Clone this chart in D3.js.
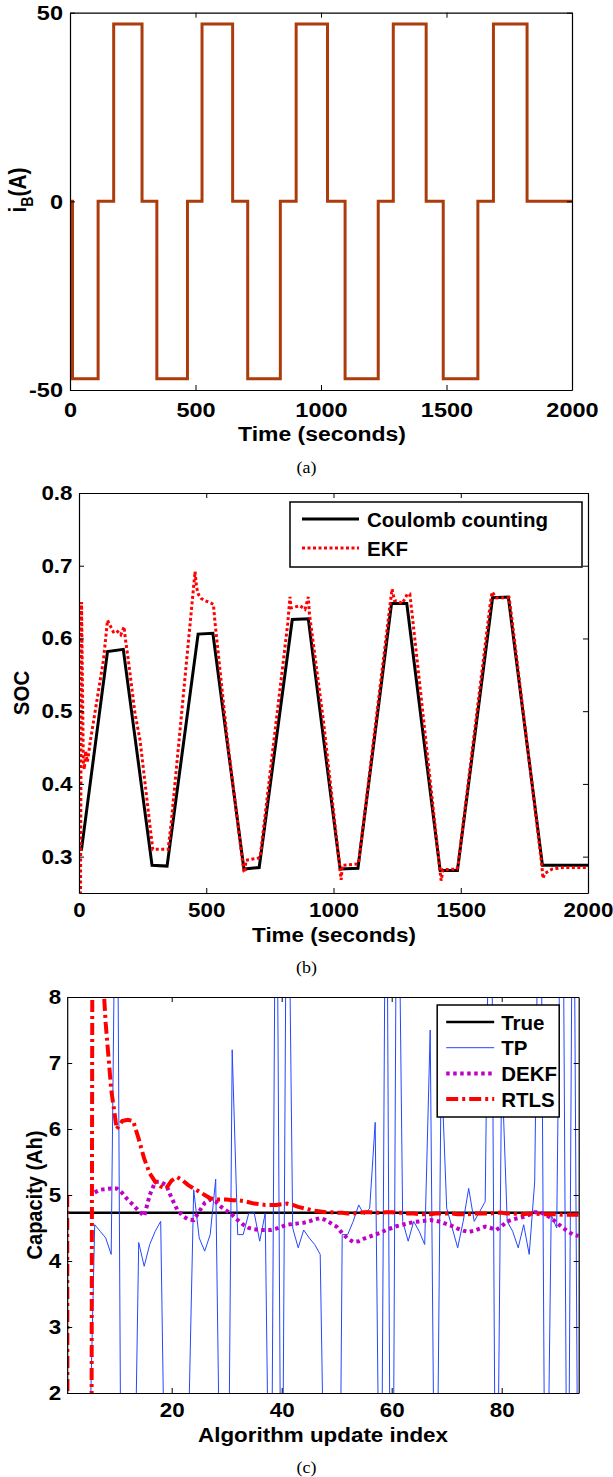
<!DOCTYPE html>
<html>
<head>
<meta charset="utf-8">
<script src="https://cdn.jsdelivr.net/npm/d3@7"></script>
<style>
  body { margin: 0; background: #fff; }
  svg { display: block; }
</style>
</head>
<body>
<div id="wrapper"></div>
<script>
// ---- panel (a): battery current, step breakpoints
const currentTime = [0, 10, 112, 174, 287, 346, 468, 526, 648, 708, 838, 901, 1026, 1096, 1228, 1288, 1419, 1487, 1625, 1687, 1821, 2000]
const currentAmp  = [0, -47, 0, 47, 0, -47, 0, 47, 0, -47, 0, 47, 0, -47, 0, 47, 0, -47, 0, 47, 0, 0]

// ---- panel (b): SOC
const socTime     = [0, 10, 112, 174, 287, 346, 468, 526, 648, 708, 838, 901, 1026, 1096, 1228, 1288, 1419, 1487, 1625, 1687, 1821, 2000]
const socCoulomb  = [0.31, 0.31, 0.582, 0.585, 0.288, 0.287, 0.606, 0.607, 0.283, 0.285, 0.626, 0.627, 0.283, 0.284, 0.648, 0.648, 0.281, 0.281, 0.656, 0.657, 0.288, 0.288]
const ekfTime = [0, 6, 10, 17, 21, 26, 33, 45, 96, 112, 122, 135, 148, 164, 177, 182, 194, 220, 240, 282, 290, 350,
  362, 456, 462, 470, 480, 495, 510, 528, 535, 580, 640, 648, 652, 656, 705,
  712, 820, 829, 833, 868, 888, 901, 905, 960, 1020, 1030, 1035, 1095,
  1100, 1220, 1230, 1240, 1255, 1270, 1290, 1300, 1310, 1417, 1423, 1430, 1485,
  1490, 1615, 1623, 1640, 1690, 1700, 1818, 1823, 1830, 1860, 1900, 2000]
const ekfSoc = [0.25, 0.25, 0.65, 0.43, 0.42, 0.445, 0.43, 0.46, 0.57, 0.625, 0.618, 0.609, 0.611, 0.605, 0.616, 0.6, 0.57, 0.497, 0.46, 0.333, 0.31, 0.31,
  0.345, 0.692, 0.67, 0.66, 0.655, 0.652, 0.65, 0.647, 0.62, 0.47, 0.30, 0.28, 0.278, 0.295, 0.298,
  0.30, 0.62, 0.657, 0.642, 0.645, 0.64, 0.657, 0.635, 0.488, 0.30, 0.268, 0.288, 0.29,
  0.295, 0.64, 0.668, 0.652, 0.651, 0.648, 0.661, 0.661, 0.63, 0.285, 0.267, 0.282, 0.283,
  0.29, 0.645, 0.664, 0.656, 0.656, 0.63, 0.29, 0.27, 0.277, 0.283, 0.285, 0.285]

// ---- panel (c): capacity estimates per algorithm update
const capIndex = d3.range(1, 95)
const trueCapacity = 4.73
const tpCapacity = [0.5, 0.8, 1.0, 0.6, 0.9, 4.55, 4.45, 4.35, 4.1, 12,
  -3, 0.5, -1, 4.28, 3.92, 4.25, 4.45, 4.6, -1, 0.5,
  1.0, 0.3, 1.2, 5.08, 4.35, 4.15, 4.4, 5.24, -1, -3,
  7.2, 4.4, 4.4, 4.72, 4.73, 4.3, 4.72, -2, 12, -2,
  12, 4.5, 4.2, 4.47, 4.35, 4.25, 4.1, -1, 0.5, -6,
  4.4, 4.4, 4.6, 4.85, 4.7, 4.8, 6.1, -2, 12, -4,
  12, 4.6, 4.3, 4.6, 4.45, 4.25, 7.5, -2, 7.0, 4.8,
  4.5, 4.2, 4.6, 5.1, 4.6, 4.75, 4.9, 12, -2, 7.0,
  4.6, 4.45, 4.2, 4.55, 4.1, 5.2, 12, -2, 4.7, 4.5,
  12, -2, 12, -2]
const dekfCapacity = [null, null, null, null, null, 5.04, 5.08, 5.09, 5.10, 5.10,
  5.03, 4.93, 4.85, 4.76, 4.68, 5.0, 5.2, 5.2, 5.15, 4.95,
  4.78, 4.68, 4.63, 4.62, 4.75, 4.88, 4.93, 4.90, 4.82, 4.76,
  4.70, 4.62, 4.55, 4.50, 4.48, 4.47, 4.47, 4.47, 4.49, 4.52,
  4.55, 4.56, 4.57, 4.58, 4.60, 4.63, 4.65, 4.62, 4.57, 4.52,
  4.42, 4.34, 4.29, 4.30, 4.34, 4.37, 4.40, 4.43, 4.47, 4.50,
  4.53, 4.55, 4.57, 4.59, 4.60, 4.61, 4.62, 4.61, 4.59, 4.56,
  4.53, 4.49, 4.46, 4.44, 4.46, 4.49, 4.52, 4.50, 4.47, 4.53,
  4.60, 4.63, 4.65, 4.67, 4.70, 4.74, 4.74, 4.70, 4.65, 4.58,
  4.51, 4.45, 4.40, 4.38]
const rtlsCapacity = [5.0, -60, -40, -30, -20, 30, 9.0, 7.6, 6.6, 6.0,
  6.12, 6.14, 6.12, 5.85, 5.55, 5.33, 5.2, 5.13, 5.1, 5.22,
  5.27, 5.22, 5.15, 5.1, 5.05, 5.0, 4.95, 4.93, 4.93, 4.93,
  4.92, 4.92, 4.91, 4.89, 4.87, 4.86, 4.85, 4.85, 4.85, 4.86,
  4.87, 4.85, 4.82, 4.80, 4.78, 4.76, 4.75, 4.74, 4.74, 4.73,
  4.73, 4.72, 4.72, 4.73, 4.74, 4.74, 4.73, 4.73, 4.74, 4.74,
  4.73, 4.73, 4.72, 4.72, 4.71, 4.71, 4.71, 4.72, 4.72, 4.72,
  4.72, 4.71, 4.71, 4.71, 4.72, 4.72, 4.72, 4.72, 4.73, 4.73,
  4.72, 4.72, 4.71, 4.71, 4.72, 4.72, 4.71, 4.71, 4.71, 4.71,
  4.70, 4.70, 4.70, 4.70]

const timeTicks = [0, 500, 1000, 1500, 2000]
const currentTicks = [-50, 0, 50]
const socTicks = [0.3, 0.4, 0.5, 0.6, 0.7, 0.8]
const indexTicks = [20, 40, 60, 80]
const capTicks = [2, 3, 4, 5, 6, 7, 8]

const sans = '"Liberation Sans", Arial, sans-serif'
const serif = '"Liberation Serif", "Times New Roman", serif'
const stretch = 1.12   // the figure's lettering is a little wider than Arial

const intFmt = d => (d < 0 ? '-' : '') + Math.abs(d)

const svg = d3.select('#wrapper').append('svg')
    .attr('width', 613)
    .attr('height', 1477)

function panel(id, left, top, w, h) {
    const g = svg.append('g').attr('transform', `translate(${left},${top})`)
    svg.append('clipPath').attr('id', id)
        .append('rect').attr('width', w).attr('height', h)
    const plot = g.append('g').attr('clip-path', `url(#${id})`)
    return {g, plot}
}

function frame(g, x, y, o) {
    const w = x.range()[1], h = y.range()[0]
    const bottom = g.append('g').attr('transform', `translate(0,${h})`)
        .call(d3.axisBottom(x).tickValues(o.xTicks).tickSizeInner(-5).tickSizeOuter(0)
            .tickPadding(o.xPad).tickFormat(o.xFmt))
    const topAx = g.append('g')
        .call(d3.axisTop(x).tickValues(o.xTicks).tickSizeInner(-5).tickSizeOuter(0).tickFormat(() => ''))
    const leftAx = g.append('g')
        .call(d3.axisLeft(y).tickValues(o.yTicks).tickSizeInner(-5).tickSizeOuter(0)
            .tickPadding(o.yPad).tickFormat(o.yFmt))
    const rightAx = g.append('g').attr('transform', `translate(${w},0)`)
        .call(d3.axisRight(y).tickValues(o.yTicks).tickSizeInner(-5).tickSizeOuter(0).tickFormat(() => ''))
    ;[bottom, topAx, leftAx, rightAx].forEach(a => {
        a.select('.domain').attr('stroke', '#000').attr('stroke-width', 1.2)
        a.selectAll('.tick line').attr('stroke', '#000')
        a.selectAll('text')
            .attr('fill', '#000')
            .attr('transform', `scale(${stretch},1)`)
            .style('font-family', sans)
            .style('font-weight', 'bold')
            .style('font-size', o.fs + 'px')
    })
    leftAx.selectAll('text').attr('x', -o.yPad / stretch)
}

function label(txt, x, y, size, rotate, family, weight) {
    return svg.append('text')
        .attr('transform', `translate(${x},${y}) scale(${stretch},1)` + (rotate ? ' rotate(-90)' : ''))
        .attr('text-anchor', 'middle')
        .style('font-family', family || sans)
        .style('font-weight', weight || 'bold')
        .style('font-size', size + 'px')
        .attr('fill', '#000')
        .text(txt)
}

// ================= (a) =================
{
    const w = 502, h = 377.3
    const {g, plot} = panel('clipA', 70, 12.7, w, h)
    const x = d3.scaleLinear().domain([0, 2000]).range([0, w])
    const y = d3.scaleLinear().domain([-50, 50]).range([h, 0])

    plot.append('path')
        .datum(currentTime.map((t, i) => [t, currentAmp[i]]))
        .attr('d', d3.line().x(d => x(d[0])).y(d => y(d[1])).curve(d3.curveStepAfter))
        .attr('fill', 'none')
        .attr('stroke', '#ad3c0c')
        .attr('stroke-width', 3)

    frame(g, x, y, {xTicks: timeTicks, yTicks: currentTicks, xFmt: intFmt, yFmt: intFmt,
        fs: 21, xPad: 12, yPad: 7})

    label('Time (seconds)', 322, 441, 20.5)
    const yl = label('', 26, 190, 21, true)
    yl.append('tspan').text('i')
    yl.append('tspan').text('B').style('font-size', '14px').attr('dy', 6)
    yl.append('tspan').text('(A)').attr('dy', -6)
    label('(a)', 306.5, 473, 16, false, serif, 'normal')
}

// ================= (b) =================
{
    const w = 509, h = 400
    const {g, plot} = panel('clipB', 79, 493, w, h)
    const x = d3.scaleLinear().domain([0, 2000]).range([0, w])
    const y = d3.scaleLinear().domain([0.25, 0.8]).range([h, 0])
    const line = d3.line().x(d => x(d[0])).y(d => y(d[1]))

    plot.append('path')
        .datum(socTime.map((t, i) => [t, socCoulomb[i]]))
        .attr('d', line)
        .attr('fill', 'none').attr('stroke', '#000').attr('stroke-width', 3)
    plot.append('path')
        .datum(ekfTime.map((t, i) => [t, ekfSoc[i]]))
        .attr('d', line)
        .attr('fill', 'none').attr('stroke', '#ff0000').attr('stroke-width', 3)
        .attr('stroke-dasharray', '3,2.5')

    frame(g, x, y, {xTicks: timeTicks, yTicks: socTicks, xFmt: intFmt, yFmt: d3.format('.1f'),
        fs: 20, xPad: 10, yPad: 6.5})

    // legend
    const lg = g.append('g').attr('transform', 'translate(211,9)')
    lg.append('rect').attr('width', 292).attr('height', 65)
        .attr('fill', '#fff').attr('stroke', '#000').attr('stroke-width', 1.5)
    const items = [
        {name: 'Coulomb counting', stroke: '#000', dash: null},
        {name: 'EKF', stroke: '#ff0000', dash: '3,2.5'}
    ]
    items.forEach((it, i) => {
        const yy = 17 + i * 29
        lg.append('line').attr('x1', 12).attr('x2', 69).attr('y1', yy).attr('y2', yy)
            .attr('stroke', it.stroke).attr('stroke-width', 3).attr('stroke-dasharray', it.dash)
        lg.append('text').attr('x', 77).attr('y', yy + 7.5).text(it.name)
            .style('font-family', sans).style('font-weight', 'bold').style('font-size', '20.5px')
    })

    label('Time (seconds)', 334, 942, 20)
    label('SOC', 29, 693, 20.5, true)
    label('(b)', 306.5, 973, 16, false, serif, 'normal')
}

// ================= (c) =================
{
    const w = 511.5, h = 396
    const {g, plot} = panel('clipC', 67.2, 997, w, h)
    const x = d3.scaleLinear().domain([1, 94]).range([0, w])
    const y = d3.scaleLinear().domain([2, 8]).range([h, 0])
    const line = d3.line().defined(d => d[1] != null).x(d => x(d[0])).y(d => y(d[1]))

    plot.append('path')
        .datum([[capIndex[0], trueCapacity], [capIndex[capIndex.length - 1], trueCapacity]])
        .attr('d', line).attr('fill', 'none').attr('stroke', '#000').attr('stroke-width', 2.5)
    plot.append('path')
        .datum(capIndex.map((k, i) => [k, tpCapacity[i]]))
        .attr('d', line).attr('fill', 'none').attr('stroke', '#2447ff').attr('stroke-width', 1)
    plot.append('path')
        .datum(capIndex.map((k, i) => [k, dekfCapacity[i]]))
        .attr('d', line).attr('fill', 'none').attr('stroke', '#c000c8').attr('stroke-width', 4)
        .attr('stroke-dasharray', '3.5,3.5')
    plot.append('path')
        .datum(capIndex.map((k, i) => [k, rtlsCapacity[i]]))
        .attr('d', line).attr('fill', 'none').attr('stroke', '#ff0000').attr('stroke-width', 4)
        .attr('stroke-dasharray', '12,4,3,4')

    frame(g, x, y, {xTicks: indexTicks, yTicks: capTicks, xFmt: intFmt, yFmt: intFmt,
        fs: 20, xPad: 10, yPad: 6})

    const lg = g.append('g').attr('transform', 'translate(370,8)')
    lg.append('rect').attr('width', 122).attr('height', 112)
        .attr('fill', '#fff').attr('stroke', '#000').attr('stroke-width', 1.5)
    const items = [
        {name: 'True', stroke: '#000', sw: 2.5, dash: null},
        {name: 'TP', stroke: '#2447ff', sw: 1, dash: null},
        {name: 'DEKF', stroke: '#c000c8', sw: 4, dash: '3.5,3.5'},
        {name: 'RTLS', stroke: '#ff0000', sw: 4, dash: '12,4,3,4'}
    ]
    items.forEach((it, i) => {
        const yy = 17 + i * 25.7
        lg.append('line').attr('x1', 9).attr('x2', 57).attr('y1', yy).attr('y2', yy)
            .attr('stroke', it.stroke).attr('stroke-width', it.sw).attr('stroke-dasharray', it.dash)
        lg.append('text').attr('x', 64).attr('y', yy + 7.5).text(it.name)
            .style('font-family', sans).style('font-weight', 'bold').style('font-size', '20.5px')
    })

    label('Algorithm update index', 323, 1442, 20)
    label('Capacity (Ah)', 42, 1195, 20, true)
    label('(c)', 306.5, 1473, 16, false, serif, 'normal')
}
</script>
</body>
</html>
